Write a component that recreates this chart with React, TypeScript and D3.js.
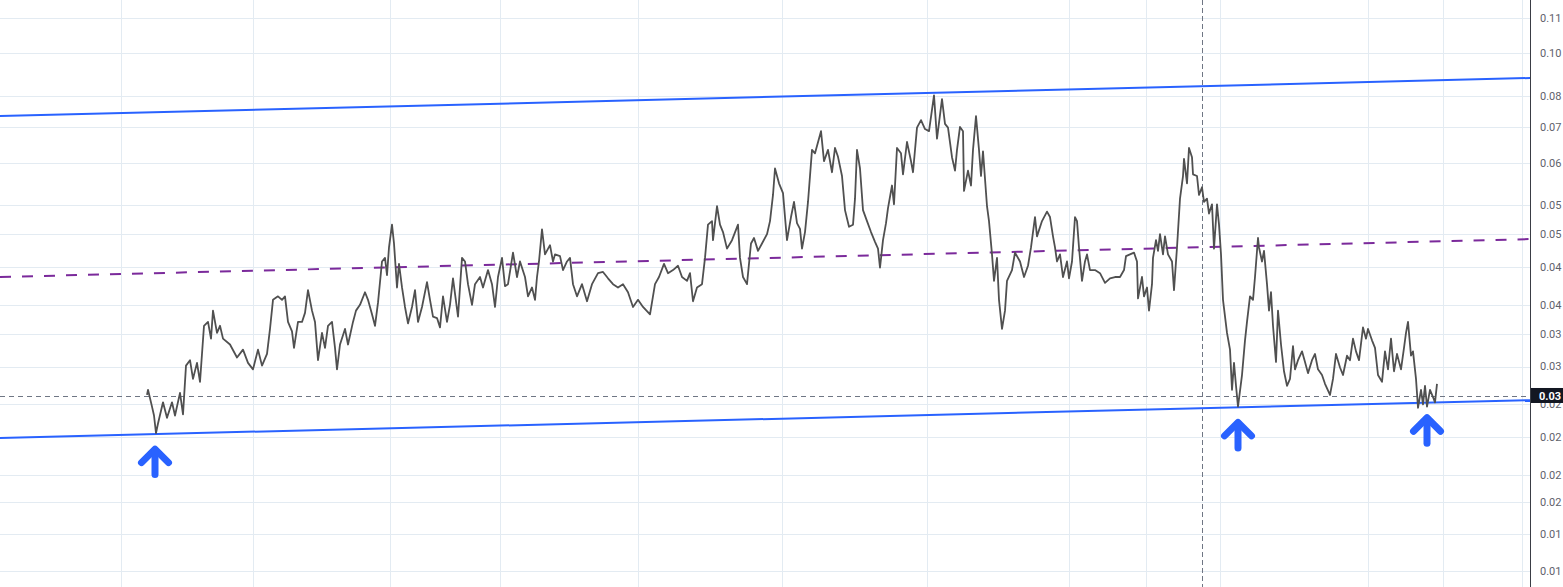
import React from "react";
import * as d3 from "d3";

const WIDTH = 1563;
const HEIGHT = 587;
const PLOT_RIGHT = 1530;

// Day offsets (from first close) and closing prices
const days = [
  0, 1, 5, 7, 9, 11, 16, 20, 25, 28, 33, 36, 39, 43, 46, 50, 53, 57, 61, 64, 66, 70, 73, 76, 83, 90, 96, 101, 106, 111, 115, 120, 123, 126, 131, 135, 138, 141, 145, 147, 151, 155, 158, 161, 165, 168, 171, 175, 178, 181, 185, 188, 190, 193, 198, 201, 206, 209, 213, 218, 221, 225, 228, 231, 235, 238, 240, 242, 245, 247, 250, 252, 255, 258, 261, 265, 268, 271, 275, 280, 283, 286, 290, 293, 296, 300, 303, 306, 311, 315, 318, 321, 325, 328, 333, 336, 341, 345, 348, 351, 355, 358, 361, 366, 370, 373,
  378, 381, 385, 388, 390, 392, 395, 398, 403, 406, 408, 413, 416, 420, 423, 426, 430, 435, 440, 445, 451, 456, 461, 466, 471, 476, 481, 486, 491, 496, 503, 508, 512, 517, 521, 526, 531, 535, 540, 543, 546, 550, 555, 558, 561, 565, 566, 570, 573, 576, 580, 585, 591, 593, 596, 600, 604, 607, 611, 615, 620, 623, 626, 628, 632, 636, 638, 640, 644, 647, 650, 653, 655, 658, 661, 665, 668, 674, 677, 681, 685, 688, 691, 695, 698, 702, 706, 708, 710, 713, 716, 720, 724, 728, 731, 733, 736, 739, 741, 745, 747, 750, 754, 756, 760, 764, 766, 770, 774, 778, 782, 787, 790, 795, 798, 801, 805, 808, 810, 813, 816, 817, 821, 824, 826, 829, 832, 834, 836, 840, 842, 845, 847, 850, 852, 855, 858, 860, 865, 868, 873,
  877, 881, 884, 886, 888, 890, 895, 900, 903, 906, 908, 910, 913, 916, 920, 922, 925, 928, 930, 932, 935, 938, 940, 943, 948, 953, 958, 963, 968, 973, 977, 979, 983, 987, 990, 991, 995, 997, 1000, 1002, 1005, 1006, 1009, 1011, 1013, 1016, 1018, 1021, 1025, 1027, 1030, 1033, 1036, 1037, 1040, 1042, 1045, 1046, 1050, 1052, 1055, 1057, 1060, 1062, 1065, 1067, 1070, 1072, 1074, 1076, 1080, 1083, 1085, 1087, 1089, 1091, 1095, 1098, 1100, 1103, 1106, 1108, 1111, 1112, 1115, 1117, 1120, 1122, 1124, 1126, 1129, 1131, 1134, 1137, 1140, 1143, 1146, 1148, 1151, 1155, 1158, 1161, 1165, 1168, 1171, 1175, 1178, 1183, 1186, 1189, 1193, 1196, 1200, 1203, 1206, 1209, 1212, 1216, 1219, 1221, 1225, 1228, 1231, 1235, 1238, 1241, 1244, 1247, 1250, 1254, 1257, 1259, 1261, 1264, 1266, 1269, 1271, 1274, 1276, 1278, 1280, 1283, 1286, 1288, 1290,
];

const prices = [
  0.0236, 0.0241, 0.0225, 0.0217, 0.0202, 0.021, 0.0229, 0.0215, 0.0229, 0.0217, 0.0238, 0.0218, 0.0266, 0.0272, 0.0252, 0.0269, 0.0249, 0.0313, 0.0318, 0.0297, 0.0333, 0.0304, 0.0313, 0.0297, 0.029, 0.0275, 0.0284, 0.0269, 0.0262, 0.0284, 0.0266, 0.0279, 0.0309, 0.0348, 0.0353, 0.0348, 0.0353, 0.0318, 0.0306, 0.0286, 0.0318, 0.0318, 0.033, 0.0362, 0.0333, 0.0318, 0.0272, 0.0304, 0.0286, 0.0313, 0.0318, 0.0286, 0.0262, 0.029, 0.0309, 0.029, 0.0318, 0.0333, 0.0341, 0.0359, 0.0348, 0.0328, 0.0313, 0.0344, 0.0407, 0.0413, 0.0385, 0.0431, 0.0473, 0.0438, 0.0366, 0.0403, 0.0366, 0.0338, 0.0316, 0.0338, 0.0362, 0.0318, 0.0338, 0.0374, 0.0348, 0.0325, 0.0323, 0.0311, 0.0353, 0.0318, 0.0341, 0.038, 0.0325, 0.0413, 0.0407, 0.0371, 0.0341, 0.0371, 0.0382, 0.0366, 0.0393, 0.0371, 0.0338, 0.0382, 0.0413, 0.0368, 0.0371, 0.0422, 0.0382, 0.0407,
  0.0382, 0.0353, 0.0366, 0.0348, 0.0382, 0.0407, 0.0464, 0.0419, 0.0435, 0.0407, 0.0419, 0.0416, 0.0393, 0.0407, 0.0413, 0.0371, 0.0353, 0.0371, 0.0346, 0.0371, 0.0388, 0.039, 0.038, 0.0371, 0.0366, 0.0371, 0.0359, 0.0338, 0.0348, 0.0338, 0.0328, 0.0371, 0.0382, 0.0403, 0.0388, 0.0393, 0.04, 0.0382, 0.0376, 0.0388, 0.0346, 0.0366, 0.0371, 0.0413, 0.0473, 0.048, 0.0444, 0.051, 0.0473, 0.0459, 0.0429, 0.0444, 0.0473, 0.0413, 0.0382, 0.0371, 0.0438, 0.0448, 0.0425, 0.0438, 0.0455, 0.048, 0.0534, 0.0595, 0.056, 0.0538, 0.0488, 0.0444, 0.0488, 0.0519, 0.0476, 0.0465, 0.0429, 0.0459, 0.0519, 0.0642, 0.0633, 0.0693, 0.0613, 0.0642, 0.0586, 0.0647, 0.0624, 0.0577, 0.0502, 0.0469, 0.0473, 0.0526, 0.0642, 0.0595, 0.0502, 0.048, 0.0459, 0.0441, 0.0429, 0.0397, 0.0444, 0.0476, 0.0506, 0.0555, 0.0514, 0.0647, 0.0633, 0.0581, 0.0663, 0.0613, 0.0586, 0.0703, 0.0725, 0.0699, 0.0693, 0.0802, 0.0672, 0.079, 0.0714, 0.0703, 0.0623, 0.059, 0.0642, 0.0705, 0.0693, 0.0543, 0.059, 0.0555, 0.0642, 0.0737, 0.0642, 0.0577, 0.0638, 0.051, 0.048, 0.0419, 0.0376, 0.0413, 0.0348, 0.0309, 0.0333, 0.0376, 0.0393, 0.0422, 0.0407,
  0.0382, 0.04, 0.0431, 0.0459, 0.0488, 0.0451, 0.048, 0.0499, 0.0488, 0.0451, 0.0431, 0.0407, 0.0419, 0.0382, 0.0407, 0.038, 0.0407, 0.0488, 0.048, 0.0431, 0.0376, 0.0407, 0.0419, 0.0393, 0.0393, 0.0388, 0.0373, 0.038, 0.0382, 0.0382, 0.0393, 0.0416, 0.0419, 0.0422, 0.0407, 0.035, 0.0382, 0.0353, 0.0366, 0.0333, 0.0371, 0.0413, 0.0444, 0.0425, 0.0455, 0.0419, 0.0451, 0.0419, 0.0407, 0.0362, 0.0431, 0.0526, 0.0577, 0.0619, 0.056, 0.0647, 0.0623, 0.0581, 0.0577, 0.0534, 0.0551, 0.0519, 0.0526, 0.0495, 0.0514, 0.0429, 0.0514, 0.0473, 0.0419, 0.0348, 0.0304, 0.0284, 0.0241, 0.0269, 0.0245, 0.0225, 0.0256, 0.0295, 0.0318, 0.0353, 0.0348, 0.0382, 0.0448, 0.0431, 0.0407, 0.0425, 0.0371, 0.0333, 0.0359, 0.0313, 0.027, 0.0333, 0.029, 0.026, 0.0245, 0.0252, 0.0288, 0.0262, 0.0272, 0.0282, 0.027, 0.0258, 0.0272, 0.0279, 0.0262, 0.0256, 0.0247, 0.0236, 0.0252, 0.0279, 0.0264, 0.0256, 0.0277, 0.0272, 0.0297, 0.0282, 0.0272, 0.0311, 0.0297, 0.0309, 0.0295, 0.0286, 0.0256, 0.0249, 0.0282, 0.0262, 0.0297, 0.026, 0.0279, 0.0262, 0.0286, 0.0304, 0.0318, 0.0277, 0.0282, 0.0252, 0.0224, 0.0241, 0.0227, 0.0245, 0.0225, 0.0241, 0.0234, 0.0229, 0.0247,
];

// Price axis (log scale) ticks and their displayed labels
const yTickValues = [0.11, 0.0954, 0.08, 0.0705, 0.0609, 0.0513, 0.0455, 0.0398, 0.0341, 0.0303, 0.0265, 0.0227, 0.0199, 0.017, 0.01525, 0.01338, 0.0115];
const yTickLabels = ["0.11", "0.10", "0.08", "0.07", "0.06", "0.05", "0.05", "0.04", "0.04", "0.03", "0.03", "0.02", "0.02", "0.02", "0.02", "0.01", "0.01"];

// Time grid (days)
const gridDays = [-26, 106, 243, 353, 491, 635, 780, 922, 999, 1073, 1221, 1296, 1375];

// Channel drawings (two anchor days, prices)
const channelDays = [-147, 1383];
const upperChannel = [0.0737, 0.0861];
const lowerChannel = [0.0198, 0.0231];
const midChannel = [0.0382, 0.0446];

const lastPrice = 0.0235;
const lastPriceLabel = "0.03";
const crosshairDay = 1055;
const arrowDays = [8, 1091, 1280];

const FONT = "Roboto, 'Liberation Sans', Arial, sans-serif";

export default function App() {
  const x = d3.scaleLinear().domain([-147, 1383]).range([0, PLOT_RIGHT]);
  const y = d3.scaleLog().domain([0.11, 0.0115]).range([18, 571]);

  const series = days.map((d, i) => [d, prices[i]] as [number, number]);
  const line = d3
    .line<[number, number]>()
    .x((p) => x(p[0]))
    .y((p) => y(p[1]));

  const chan = (vals: number[]) =>
    line([
      [channelDays[0], vals[0]],
      [channelDays[1], vals[1]],
    ]);

  const lowerY = (d: number) => {
    const t = (d - channelDays[0]) / (channelDays[1] - channelDays[0]);
    return y(lowerChannel[0]) + (y(lowerChannel[1]) - y(lowerChannel[0])) * t;
  };

  const lastY = y(lastPrice);

  return (
    <svg
      width={WIDTH}
      height={HEIGHT}
      style={{ position: "absolute", left: 0, top: 0, display: "block", background: "#ffffff" }}
    >
      <rect x={0} y={0} width={WIDTH} height={HEIGHT} fill="#ffffff" />
      {/* grid */}
      <g stroke="#e3ebf2" strokeWidth={1}>
        {gridDays.map((d, i) => (
          <line key={"gx" + i} x1={Math.round(x(d)) + 0.5} x2={Math.round(x(d)) + 0.5} y1={0} y2={HEIGHT} />
        ))}
        {yTickValues.map((v, i) => (
          <line key={"gy" + i} x1={0} x2={PLOT_RIGHT} y1={Math.round(y(v)) + 0.5} y2={Math.round(y(v)) + 0.5} />
        ))}
      </g>

      {/* crosshair vertical */}
      <line
        x1={Math.round(x(crosshairDay)) + 0.5}
        x2={Math.round(x(crosshairDay)) + 0.5}
        y1={0}
        y2={HEIGHT}
        stroke="#6f7684"
        strokeWidth={1}
        strokeDasharray="5 3"
      />

      {/* last price line */}
      <line
        x1={0}
        x2={PLOT_RIGHT}
        y1={Math.round(lastY) + 0.5}
        y2={Math.round(lastY) + 0.5}
        stroke="#6f7684"
        strokeWidth={1}
        strokeDasharray="5 4"
      />

      {/* channel */}
      <path d={chan(midChannel) || ""} fill="none" stroke="#7b2a9b" strokeWidth={2} strokeDasharray="11 11" />
      <path d={chan(upperChannel) || ""} fill="none" stroke="#2962ff" strokeWidth={2} />
      <path d={chan(lowerChannel) || ""} fill="none" stroke="#2962ff" strokeWidth={2} />

      {/* price */}
      <path d={line(series) || ""} fill="none" stroke="#505050" strokeWidth={1.8} strokeLinejoin="round" />

      {/* arrows */}
      {arrowDays.map((d, i) => {
        const ax = x(d);
        const ay = lowerY(d) + 15;
        return (
          <g key={"ar" + i} stroke="#2962ff" strokeWidth={7} strokeLinecap="round" strokeLinejoin="round" fill="none">
            <path d={`M${ax - 13.5},${ay + 13.5} L${ax},${ay} L${ax + 13.5},${ay + 13.5}`} />
            <line x1={ax} x2={ax} y1={ay + 1} y2={ay + 25.5} />
          </g>
        );
      })}

      {/* price axis */}
      <rect x={PLOT_RIGHT} y={0} width={WIDTH - PLOT_RIGHT} height={HEIGHT} fill="#ffffff" />
      <line x1={PLOT_RIGHT + 0.5} x2={PLOT_RIGHT + 0.5} y1={0} y2={HEIGHT} stroke="#3a3d45" strokeWidth={1} />
      {yTickValues.map((v, i) => (
        <text
          key={"yl" + i}
          x={1540}
          y={y(v)}
          dy="0.35em"
          fontFamily={FONT}
          fontSize={11}
          fill="#5f626b"
        >
          {yTickLabels[i]}
        </text>
      ))}
      <rect x={PLOT_RIGHT + 1} y={lastY - 8} width={WIDTH - PLOT_RIGHT - 1} height={15} fill="#131722" />
      <text x={1539} y={lastY} dy="0.35em" fontFamily={FONT} fontSize={11} fontWeight="bold" fill="#ffffff">
        {lastPriceLabel}
      </text>
    </svg>
  );
}
